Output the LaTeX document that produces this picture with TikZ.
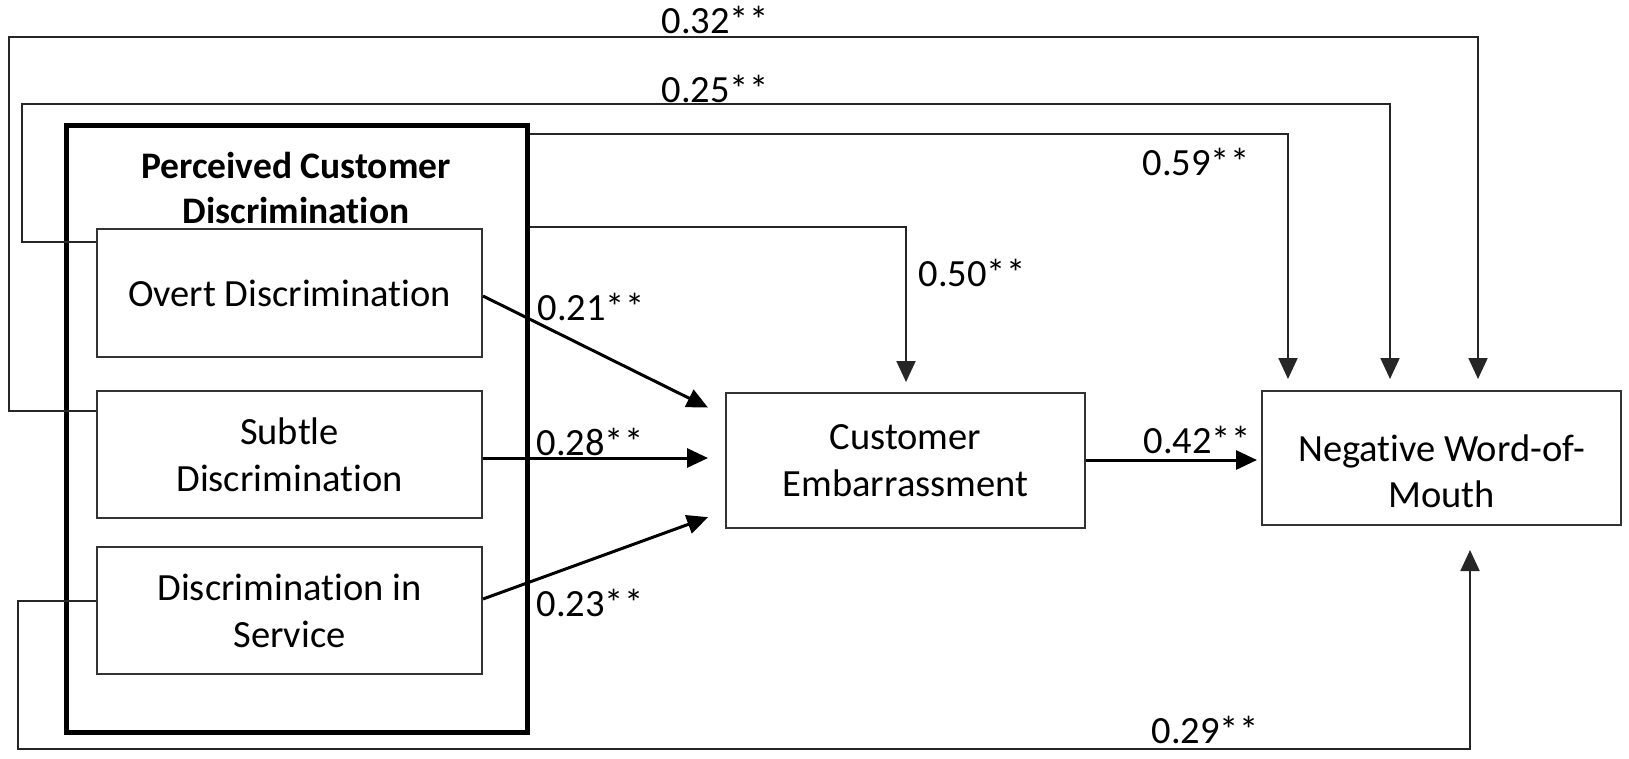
\documentclass[tikz,border=0pt]{standalone}
\usepackage{fontspec}
\setmainfont{Carlito}[Ligatures={NoCommon}]
\usetikzlibrary{arrows.meta}
\begin{document}
\begin{tikzpicture}[x=1pt,y=-1pt,
  box/.style={draw=black!80, line width=2pt, inner sep=0pt, align=center,
    font=\fontsize{38.5}{47}\selectfont},
  disc/.style={box, minimum width=385pt, minimum height=127pt},
  lbl/.style={font=\fontsize{38.5}{44}\selectfont, inner sep=0pt},
  conn/.style={draw=black!85, line width=2pt, -{Triangle[length=21pt,width=19pt]}},
  thick/.style={draw=black, line width=3pt, -{Triangle[length=21pt,width=19pt]}}
]
\useasboundingbox (0,0) rectangle (1629,758);

% outer construct box
\node[draw=black, line width=5pt, minimum width=461pt, minimum height=607pt, inner sep=0pt] (outer) at (296.5,428.5) {};
\node[align=center, inner sep=0pt, font=\fontsize{37.5}{45}\selectfont\bfseries] (title) at (296,188) {Perceived Customer\\Discrimination};

\node[disc, minimum height=128pt] (overt) at (289.5,293) {Overt Discrimination};
\node[disc] (subtle) at (289.5,454.5) {Subtle\\Discrimination};
\node[disc] (service) at (289.5,610.5) {Discrimination in\\Service};

\node[box, minimum width=359pt, minimum height=135pt] (cust) at (905.5,460.5) {Customer\\Embarrassment};
\node[box, minimum width=359pt, minimum height=134pt] (nwom) at (1441.5,458) {};
\node[align=center, inner sep=0pt, font=\fontsize{38.5}{46}\selectfont] (nwomtext) at (1441.5,471) {Negative Word-of-\\Mouth};

% long paths to NWOM
\draw[conn, shorten >=11pt] (subtle.west |- 0,411) -| (9,37) -| (nwom.north -| 1478,0);
\draw[conn, shorten >=11pt] (overt.west |- 0,242) -| (22,104) -| (nwom.north -| 1390,0);
\draw[conn, shorten >=11pt] (outer.east |- 0,134) -| (nwom.north -| 1288,0);
\draw[conn, shorten >=10pt] (outer.east |- 0,227) -| (cust.north -| 906,0);
\draw[conn, shorten >=24pt] (service.west |- 0,601) -| (18,749) -| (nwom.south -| 1470,0);

% direct paths to embarrassment
\draw[thick, shorten >=19pt] (overt.east |- 0,296) -- (cust.west |- 0,416);
\draw[thick, shorten >=17pt] (subtle.east |- 0,458) -- (cust.west |- 0,458);
\draw[thick, shorten >=18pt] (service.east |- 0,599) -- (cust.west |- 0,511);
\draw[thick, shorten >=4pt] (cust.east |- 0,460) -- (nwom.west |- 0,460);

% labels
\node[lbl] (l32) at (715,20) {0.32**};
\node[lbl] (l25) at (715,89) {0.25**};
\node[lbl] (l59) at (1196,162) {0.59**};
\node[lbl] (l50) at (972,273) {0.50**};
\node[lbl] (l21) at (591,307) {0.21**};
\node[lbl] (l28) at (590,442) {0.28**};
\node[lbl] (l23) at (590,603) {0.23**};
\node[lbl] (l42) at (1197,440) {0.42**};
\node[lbl] (l29) at (1205,730) {0.29**};
\end{tikzpicture}
\end{document}
